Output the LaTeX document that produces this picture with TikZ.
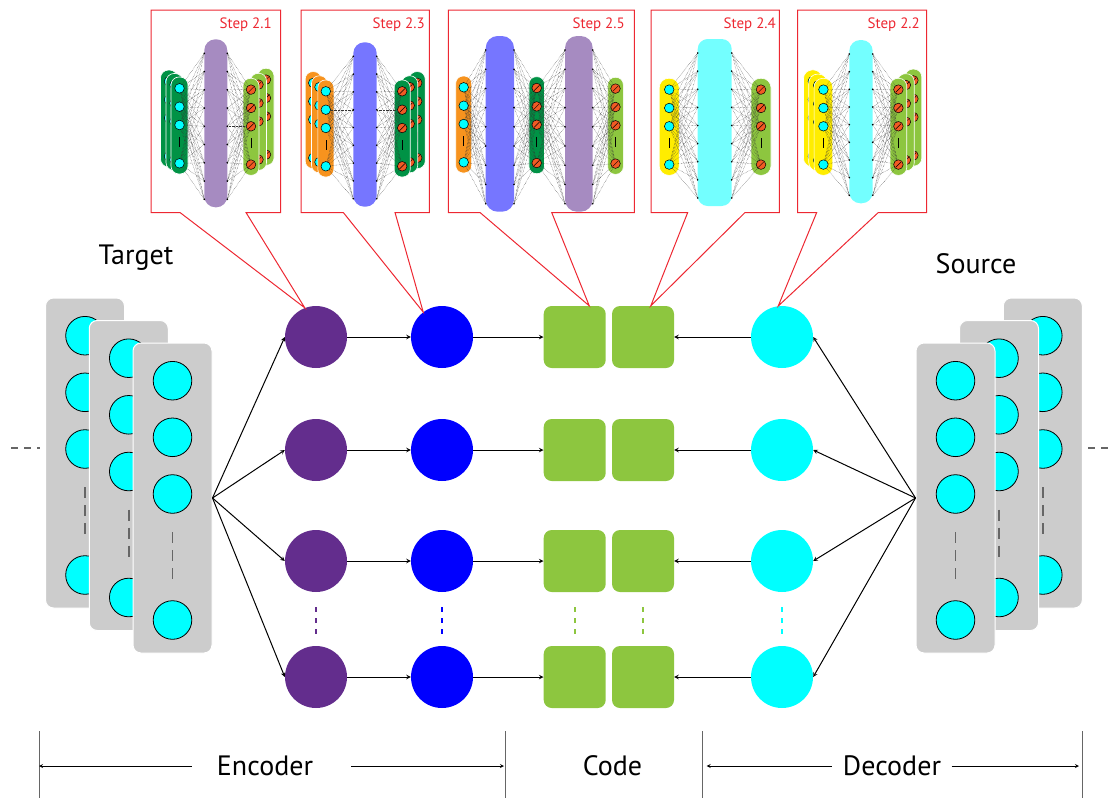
\documentclass[tikz,border=0pt]{standalone}
\usepackage{fontspec}
\setmainfont{PT Sans}
\usepackage{tikz}

\definecolor{encviolet}{RGB}{99,45,141}
\definecolor{codegreen}{RGB}{141,198,63}
\definecolor{unitcyan}{RGB}{0,255,255}
\definecolor{stepred}{RGB}{237,40,50}
\definecolor{netdark}{RGB}{0,146,69}
\definecolor{netlight}{RGB}{141,198,63}
\definecolor{netorange}{RGB}{247,147,30}
\definecolor{netyellow}{RGB}{255,237,0}
\definecolor{dotred}{RGB}{241,90,36}
\definecolor{hidpurple}{RGB}{166,139,193}
\definecolor{hidblue}{RGB}{118,118,255}
\definecolor{hidcyan}{RGB}{115,255,255}

\begin{document}
\begin{tikzpicture}[>=stealth, x=1pt, y=-1pt,
  panel/.style={fill=gray!40, draw=white, line width=1pt, rounded corners=8pt, minimum width=79pt, minimum height=310pt, inner sep=0pt},
  unit/.style={circle, fill=unitcyan, draw=black, line width=0.8pt, minimum size=38.6pt, inner sep=0pt},
  unitdash/.style={draw=black!60, line width=1.6pt, dash pattern=on 11pt off 7pt},
  sidedash/.style={draw=black!60, line width=1.2pt, dash pattern=on 7pt off 6pt},
  encA/.style={circle, fill=encviolet, minimum size=62pt, inner sep=0pt},
  encB/.style={circle, fill=blue, minimum size=62pt, inner sep=0pt},
  codebox/.style={fill=codegreen, rounded corners=8pt, minimum size=62pt, inner sep=0pt},
  decA/.style={circle, fill=unitcyan, minimum size=62pt, inner sep=0pt},
  link/.style={->, line width=1pt},
  vdots/.style={line width=2pt, dash pattern=on 5pt off 6pt, shorten <=15pt, shorten >=11pt},
  callout/.style={draw=stepred, line width=1pt},
  steplabel/.style={text=stepred, font=\fontsize{15}{18}\selectfont, anchor=base east, inner sep=0pt},
  title/.style={font=\fontsize{28}{32}\selectfont, anchor=base, inner sep=0pt},
  scaleline/.style={draw=black!60, line width=0.8pt},
  scalearrow/.style={->, line width=0.8pt},
  pill/.style={draw=white, line width=0.6pt},
  inp/.style={circle, fill=unitcyan, draw=black, line width=0.5pt, minimum size=9.6pt, inner sep=0pt},
  outp/.style={circle, fill=dotred, draw=black, line width=0.5pt, minimum size=9.6pt, inner sep=0pt,
    path picture={\draw[line width=0.5pt] ([shift={(2pt,2pt)}]path picture bounding box.south west) -- ([shift={(-2pt,-2pt)}]path picture bounding box.north east);}},
  mesh/.style={densely dotted, line width=0.4pt, black!80}]

\useasboundingbox (0,0) rectangle (1113,798);

\draw[sidedash] (11,448) -- (40,448);
\draw[sidedash] (1088,448) -- (1113,448);

\foreach \px/\pt/\nm in {85/298/T1, 128.75/320.5/T2, 172.5/343/T3, 1042.8/298/S3, 999/320.5/S2, 955.5/343/S1} {
  \node[panel] (\nm) at (\px,\pt+155) {};
  \foreach \dy/\k in {37.7/1, 94.3/2, 151/3, 277/4}
    \node[unit] (\nm-\k) at (\px,\pt+\dy) {};
  \draw[unitdash] (\px,\pt+189) -- (\px,\pt+240);
}

\node[title] (target) at (136,264.3) {Target};
\node[title] (source) at (976,273.3) {Source};



\node[encA] (p1) at (316,337) {};
\node[encA] (p2) at (316,450) {};
\node[encA] (p3) at (316,561) {};
\node[encA] (p4) at (316,677) {};

\node[encB] (b1) at (442,337) {};
\node[encB] (b2) at (442,450) {};
\node[encB] (b3) at (442,561) {};
\node[encB] (b4) at (442,677) {};

\node[codebox] (s1l) at (574.7,337) {};
\node[codebox] (s2l) at (574.7,450) {};
\node[codebox] (s3l) at (574.7,561) {};
\node[codebox] (s4l) at (574.7,677) {};

\node[codebox] (s1r) at (643,337) {};
\node[codebox] (s2r) at (643,450) {};
\node[codebox] (s3r) at (643,561) {};
\node[codebox] (s4r) at (643,677) {};

\node[decA] (c1) at (782,337) {};
\node[decA] (c2) at (782,450) {};
\node[decA] (c3) at (782,561) {};
\node[decA] (c4) at (782,677) {};

\draw[vdots, draw=encviolet] (p3) -- (p4);
\draw[vdots, draw=blue] (b3) -- (b4);
\draw[vdots, draw=codegreen] (s3l) -- (s4l);
\draw[vdots, draw=codegreen] (s3r) -- (s4r);
\draw[vdots, draw=unitcyan] (c3) -- (c4);

\foreach \r in {1,2,3,4} {
  \draw[link] (T3.east) -- (p\r.west);
  \draw[link] (p\r) -- (b\r);
  \draw[link] (b\r) -- (s\r l);
  \draw[link] (c\r) -- (s\r r);
  \draw[link] (S1.west) -- (c\r.east);
}



\draw[callout] (151,10) -- (280.7,10) -- (280.7,212.5) -- (246,212.5) -- (p1.111) -- (180,212.5) -- (151,212.5) -- cycle;
\draw[callout] (301,10) -- (429.3,10) -- (429.3,212.5) -- (395,212.5) -- (b1.127) -- (343.3,212.5) -- (301,212.5) -- cycle;
\draw[callout] (448.3,10) -- (634.3,10) -- (634.3,212.5) -- (551.7,212.5) -- (s1l.65) -- (480,212.5) -- (448.3,212.5) -- cycle;
\draw[callout] (651,10) -- (779.3,10) -- (779.3,212.5) -- (745,212.5) -- (s1r.76) -- (687.7,212.5) -- (651,212.5) -- cycle;
\draw[callout] (797.7,10) -- (926.7,10) -- (926.7,212.5) -- (878.3,212.5) -- (c1.97) -- (816.7,212.5) -- (797.7,212.5) -- cycle;

\node[steplabel] (st1) at (272,28.5) {Step 2.1};
\node[steplabel] (st3) at (425,28.5) {Step 2.3};
\node[steplabel] (st5) at (625,28.5) {Step 2.5};
\node[steplabel] (st4) at (776,28.5) {Step 2.4};
\node[steplabel] (st2) at (920,28.5) {Step 2.2};

\fill[hidpurple, rounded corners=11pt] (204.3,39.3) rectangle (227.3,207.3);
\fill[hidblue, rounded corners=11pt] (353.3,42.3) rectangle (376.7,206.7);
\fill[hidblue, rounded corners=12pt] (485.7,36) rectangle (514,211.7);
\fill[hidpurple, rounded corners=12pt] (565,36) rectangle (592.7,211.7);
\fill[hidcyan, rounded corners=10pt] (697.7,39) rectangle (731.7,206);
\fill[hidcyan, rounded corners=11pt] (849.3,40) rectangle (872.7,203.3);

\foreach \cx/\ty/\w/\col/\dot/\nm in {
    169/70/17/netdark/inp/aL3, 174.5/73.5/17/netdark/inp/aL2, 179.5/77/17/netdark/inp/aL,
    266/68.3/16/netlight/outp/aR3, 258.5/73.3/16/netlight/outp/aR2, 251/78.3/16/netlight/outp/aR,
    313.2/71.6/16/netorange/inp/bL3, 319.5/75.8/16/netorange/inp/bL2, 325.8/80/16/netorange/inp/bL,
    417.2/71.6/16/netdark/outp/bR3, 409.7/75.8/16/netdark/outp/bR2, 402.2/80/16/netdark/outp/bR,
    463.7/76/16/netorange/inp/cL, 536.7/76.7/15.5/netdark/outp/cM, 615.5/77.3/15.6/netlight/outp/cR,
    669.2/78.3/20/netyellow/inp/dL, 761/78.3/20/netlight/outp/dR,
    812.8/69.9/18.7/netyellow/inp/eL3, 818.1/74.1/18.7/netyellow/inp/eL2, 823.4/78.3/18.7/netyellow/inp/eL,
    913.4/69.1/16.7/netlight/outp/eR3, 905.9/73.7/16.7/netlight/outp/eR2, 898.4/78.3/16.7/netlight/outp/eR} {
  \pgfmathsetmacro\rr{\w*0.47}
  \draw[pill, fill=\col, rounded corners=\rr pt] (\cx-\w/2,\ty) rectangle (\cx+\w/2,\ty+97);
  \foreach \dy/\k in {11.3/1, 29.7/2, 48/3, 86.3/4}
    \node[\dot] (\nm-\k) at (\cx,\ty+\dy) {};
  \draw[line width=0.6pt] (\cx,\ty+60) -- (\cx,\ty+70);
}

\foreach \nm/\ex/\et/\eb in {aL/204.3/39.3/207.3, aR/227.3/39.3/207.3, bL/353.3/42.3/206.7, bR/376.7/42.3/206.7,
    cL/485.7/36/211.7, cM/514/36/211.7, cM/565/36/211.7, cR/592.7/36/211.7,
    dL/697.7/39/206, dR/731.7/39/206, eL/849.3/40/203.3, eR/872.7/40/203.3} {
  \foreach \k in {0,...,8} {
    \coordinate (tap) at (\ex,{\et+14+\k*(\eb-\et-22)/8});
    \foreach \j in {1,...,4}
      \draw[mesh] (\nm-\j) -- (tap);
    \fill (tap) circle (0.9);
  }
}



\coordinate (v1) at (39,766);
\coordinate (v2) at (505,766);
\coordinate (v3) at (702.6,766);
\coordinate (v4) at (1082,766);
\foreach \v in {1,2,3,4}
  \draw[scaleline] (v\v) ++(0,-35) -- ++(0,67);

\node[title] (enc) at (265,775) {Encoder};
\node[title] (code) at (612.5,775) {Code};
\node[title] (dec) at (892,775) {Decoder};

\draw[scalearrow] (enc.west |- v1) ++(-25,0) -- (v1);
\draw[scalearrow] (enc.east |- v2) ++(38,0) -- ([xshift=-1pt]v2);
\draw[scalearrow] (dec.west |- v3) ++(-11,0) -- ([xshift=4pt]v3);
\draw[scalearrow] (dec.east |- v4) ++(10.5,0) -- ([xshift=-3pt]v4);

\end{tikzpicture}
\end{document}
